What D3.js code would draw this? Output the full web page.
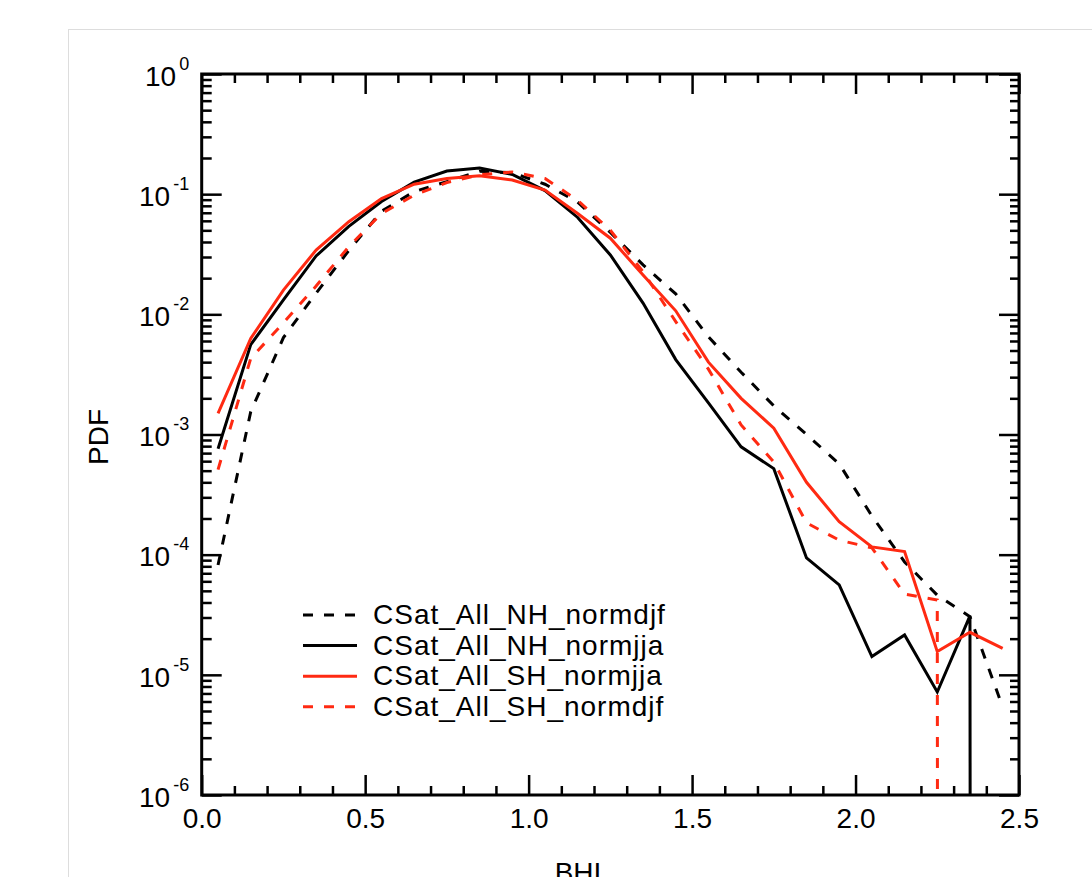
<!DOCTYPE html>
<html>
<head>
<meta charset="utf-8">
<script src="https://cdn.jsdelivr.net/npm/d3@7"></script>
<style>
body { margin: 0; background: #fff; }
text { font-family: 'Liberation Sans', Arial, Helvetica, sans-serif; fill: #000; }
</style>
</head>
<body>
<svg id="chart"></svg>
<script>

// bin centres (BHI)
const bhi = [0.05, 0.15, 0.25, 0.35, 0.45, 0.55, 0.65, 0.75, 0.85, 0.95,
             1.05, 1.15, 1.25, 1.35, 1.45, 1.55, 1.65, 1.75, 1.85, 1.95,
             2.05, 2.15, 2.25, 2.35, 2.45];

// PDF values (0 = empty bin)
const nhDjf = [8.2e-5, 1.55e-3, 6.4e-3, 0.015, 0.034, 0.072, 0.105, 0.127, 0.155, 0.151,
               0.121, 0.086, 0.048, 0.0258, 0.0148, 6.5e-3, 3.3e-3, 1.73e-3, 1.0e-3, 5.7e-4,
               2.1e-4, 8.7e-5, 4.6e-5, 3.05e-5, 5.4e-6];
const nhJja = [7.6e-4, 5.6e-3, 0.0132, 0.0306, 0.054, 0.087, 0.126, 0.156, 0.165, 0.146,
               0.107, 0.064, 0.0312, 0.0124, 4.2e-3, 1.83e-3, 7.9e-4, 5.2e-4, 9.4e-5, 5.6e-5,
               1.42e-5, 2.15e-5, 7.2e-6, 3.1e-5, 0];
const shJja = [1.5e-3, 6.3e-3, 0.0159, 0.0343, 0.059, 0.092, 0.121, 0.135, 0.142, 0.131,
               0.108, 0.069, 0.043, 0.0212, 0.0107, 4.0e-3, 2.0e-3, 1.13e-3, 4.0e-4, 1.88e-4,
               1.16e-4, 1.06e-4, 1.56e-5, 2.26e-5, 1.66e-5];
const shDjf = [5.1e-4, 4.3e-3, 8.5e-3, 0.0172, 0.0366, 0.069, 0.098, 0.125, 0.145, 0.153,
               0.135, 0.089, 0.050, 0.0226, 8.7e-3, 3.5e-3, 1.2e-3, 5.9e-4, 1.84e-4, 1.32e-4,
               1.14e-4, 4.7e-5, 4.2e-5, 0, 0];

const seriesNames = ['CSat_All_NH_normdjf', 'CSat_All_NH_normjja', 'CSat_All_SH_normjja', 'CSat_All_SH_normdjf'];
const xTicks = [0.0, 0.5, 1.0, 1.5, 2.0, 2.5];
const yTicks = [1e-6, 1e-5, 1e-4, 1e-3, 1e-2, 1e-1, 1];

const RED = '#ff2a12';
const lineStyles = [
    {color: '#000', dash: '10,11'},
    {color: '#000', dash: null},
    {color: RED, dash: null},
    {color: RED, dash: '10,11'}
];

class PdfPlot {

    constructor(config, series){
        this.config = {
            parent: config.parent,
            width: config.width || 1092,
            height: config.height || 877,
            margin: config.margin || {top: 74, left: 201.7, right: 73, bottom: 82},
            xlabel: config.xlabel || '',
            ylabel: config.ylabel || ''
        }
        this.series = series;
        this.init();
    }

    init(){
        let self = this;

        self.svg = d3.select(self.config.parent)
            .attr('width', self.config.width)
            .attr('height', self.config.height);

        // card behind the plot
        self.svg.append('rect')
            .attr('x', 68.5).attr('y', 29.5)
            .attr('width', 1100).attr('height', 900)
            .attr('fill', '#fff')
            .attr('stroke', '#dddddd');

        self.inner_width = self.config.width - self.config.margin.left - self.config.margin.right;
        self.inner_height = self.config.height - self.config.margin.top - self.config.margin.bottom;

        self.chart = self.svg.append('g')
            .attr('transform', `translate(${self.config.margin.left}, ${self.config.margin.top})`);

        self.xscale = d3.scaleLinear()
            .domain([0, 2.5])
            .range([0, self.inner_width]);

        self.yscale = d3.scaleLog()
            .domain([1e-6, 1])
            .range([self.inner_height, 0]);

        self.chart.append('clipPath').attr('id', 'plotclip')
            .append('rect')
            .attr('width', self.inner_width)
            .attr('height', self.inner_height);

        self.lines_group = self.chart.append('g').attr('clip-path', 'url(#plotclip)');

        self.drawAxes();
        self.drawLabels();
    }

    drawAxes(){
        let self = this;
        const W = self.inner_width, H = self.inner_height;

        const xMinor = d3.range(1, 25).map(i => i / 10).filter(v => Math.abs(v * 2 - Math.round(v * 2)) > 1e-6);
        const yMinor = [];
        for (let k = -6; k < 0; k++) for (let m = 2; m <= 9; m++) yMinor.push(m * Math.pow(10, k));

        const add = (axis, tx, ty) => {
            const g = self.chart.append('g')
                .attr('transform', `translate(${tx}, ${ty})`)
                .call(axis);
            g.select('.domain').remove();
            g.selectAll('.tick line').attr('stroke', '#000').attr('stroke-width', 2.5);
            return g;
        }

        // bottom
        const xb = add(d3.axisBottom(self.xscale).tickValues(xTicks).tickSize(-20).tickSizeOuter(0)
            .tickPadding(13).tickFormat(d3.format('.1f')), 0, H);
        xb.selectAll('.tick text').attr('font-size', 28).attr('font-family', null);
        add(d3.axisBottom(self.xscale).tickValues(xMinor).tickSize(-9).tickFormat(''), 0, H);

        // top
        add(d3.axisTop(self.xscale).tickValues(xTicks).tickSize(-20).tickFormat(''), 0, 0);
        add(d3.axisTop(self.xscale).tickValues(xMinor).tickSize(-9).tickFormat(''), 0, 0);

        // left, with 10^n labels
        const yl = add(d3.axisLeft(self.yscale).tickValues(yTicks).tickSize(-20).tickPadding(12.5)
            .tickFormat(''), 0, 0);
        yl.selectAll('.tick text')
            .attr('font-size', 28).attr('font-family', null)
            .attr('dy', '0.4em')
            .each(function(d){
                const t = d3.select(this);
                t.append('tspan').text('10');
                t.append('tspan').attr('dx', 3).attr('dy', -16).attr('font-size', 18)
                    .text(Math.round(Math.log10(d)));
            });
        add(d3.axisLeft(self.yscale).tickValues(yMinor).tickSize(-10).tickFormat(''), 0, 0);

        // right
        add(d3.axisRight(self.yscale).tickValues(yTicks).tickSize(-20).tickFormat(''), W, 0);
        add(d3.axisRight(self.yscale).tickValues(yMinor).tickSize(-9).tickFormat(''), W, 0);

        // frame
        self.chart.append('rect')
            .attr('width', W).attr('height', H)
            .attr('fill', 'none')
            .attr('stroke', '#000')
            .attr('stroke-width', 3);
    }

    drawLabels(){
        let self = this;

        self.svg.append('text')
            .attr('transform', 'translate(108, 437) rotate(-90)')
            .attr('text-anchor', 'middle')
            .attr('font-size', 28)
            .text(self.config.ylabel);

        self.svg.append('text')
            .attr('x', 578).attr('y', 882)
            .attr('text-anchor', 'middle')
            .attr('font-size', 28)
            .text(self.config.xlabel);

        // legend
        const lx = 303, ly = 615, gap = 30.6;
        const leg = self.svg.append('g');
        self.series.forEach((s, i) => {
            const y = ly + i * gap;
            leg.append('line')
                .attr('x1', lx).attr('x2', lx + 54)
                .attr('y1', y).attr('y2', y)
                .attr('stroke', s.style.color)
                .attr('stroke-width', 3)
                .attr('stroke-dasharray', s.style.dash);
            leg.append('text')
                .attr('x', lx + 70).attr('y', y + 9)
                .attr('font-size', 28)
                .attr('letter-spacing', 1)
                .text(s.name);
        });
    }

    render(){
        let self = this;

        // an empty bin sends the line straight down out of the log axis
        const line = d3.line()
            .x(d => self.xscale(d.x))
            .y(d => self.yscale(d.v > 0 ? d.v : 1e-300));

        self.lines_group.selectAll('path.series').data(self.series).enter()
            .append('path')
            .attr('class', 'series')
            .attr('fill', 'none')
            .attr('stroke', s => s.style.color)
            .attr('stroke-width', 3)
            .attr('stroke-linejoin', 'miter')
            .attr('stroke-miterlimit', 3)
            .attr('stroke-dasharray', s => s.style.dash)
            .attr('d', s => line(s.values.map((v, i) => ({x: bhi[i], v: v}))));
    }
}

const series = [nhDjf, nhJja, shJja, shDjf].map((values, i) => ({
    name: seriesNames[i],
    values: values,
    style: lineStyles[i]
}));

const plot = new PdfPlot({parent: '#chart', xlabel: 'BHI', ylabel: 'PDF'}, series);
plot.render();

</script>
</body>
</html>
